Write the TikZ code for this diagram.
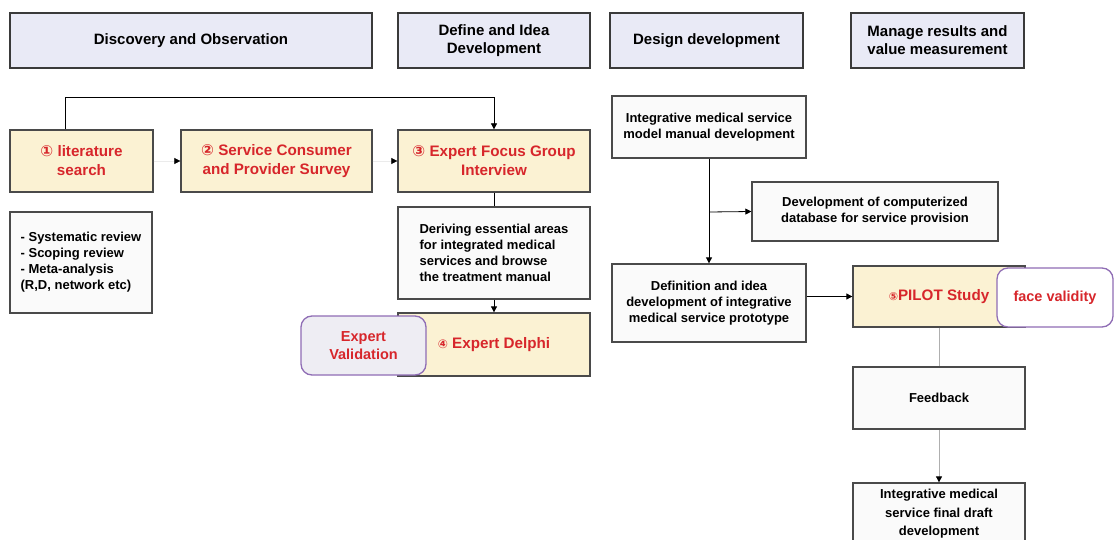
\documentclass[tikz,border=0pt]{standalone}
\usepackage{fontspec}
\setmainfont{Liberation Sans}
\newfontfamily\dejavu{DejaVu Sans}
\usetikzlibrary{arrows.meta}
\definecolor{hdrfill}{HTML}{E9EAF6}
\definecolor{hdrdraw}{HTML}{3A3A3A}
\definecolor{yelfill}{HTML}{FBF2D3}
\definecolor{redtxt}{HTML}{D7262B}
\definecolor{boxfill}{HTML}{FAFAFA}
\definecolor{boxdraw}{HTML}{4A4A4A}
\definecolor{purp}{HTML}{8F6DB5}
\definecolor{evfill}{HTML}{EEEDF3}
\definecolor{lgray}{HTML}{AFAFAF}
\newcommand{\cnum}[1]{{\dejavu\bfseries #1}}
\tikzset{
  hdr/.style={draw=hdrdraw, line width=1.6pt, fill=hdrfill, align=center, inner sep=0pt,
    font=\bfseries\fontsize{15}{18}\selectfont},
  ybox/.style={draw=boxdraw, line width=1.3pt, fill=yelfill, text=redtxt, align=center, inner sep=0pt,
    font=\bfseries\fontsize{15.2}{19}\selectfont},
  wbox/.style={draw=boxdraw, line width=1.3pt, fill=boxfill, align=center, inner sep=0pt,
    font=\bfseries\fontsize{13}{16}\selectfont},
  rbox/.style={draw=purp, line width=1.3pt, rounded corners=11pt, text=redtxt, align=center, inner sep=0pt,
    font=\bfseries\fontsize{14.5}{17.7}\selectfont},
  conn/.style={draw=black, line width=0.8pt},
  arr/.style={conn, -{Triangle[length=6pt,width=6pt]}},
  farr/.style={draw=black!8, line width=0.6pt, -{Triangle[length=6pt,width=6pt,color=black]}},
  garr/.style={draw=lgray, line width=0.9pt, -{Triangle[length=6pt,width=6pt,color=black]}},
}
\begin{document}
\begin{tikzpicture}[x=1pt,y=-1pt]
\useasboundingbox (0,0) rectangle (1115,540);
\clip (0,0) rectangle (1115,540);
\fill[white] (0,0) rectangle (1115,540);

% headers
\node[hdr, minimum width=362pt, minimum height=55pt] (h1) at (191,40.5) {Discovery and Observation};
\node[hdr, minimum width=192pt, minimum height=55pt] (h2) at (494,40.5) {Define and Idea\\Development};
\node[hdr, minimum width=193pt, minimum height=55pt] (h3) at (706.5,40.5) {Design development};
\node[hdr, minimum width=173pt, minimum height=55pt] (h4) at (937.5,40.5) {Manage results and\\value measurement};

% column 1-2
\node[ybox, minimum width=143pt, minimum height=62pt] (lit) at (81.5,161) {\cnum{①} literature\\search};
\node[ybox, minimum width=191pt, minimum height=62pt] (svc) at (276.5,161) {\cnum{②} Service Consumer\\and Provider Survey};
\node[ybox, minimum width=192pt, minimum height=62pt] (fgi) at (494,161) {\cnum{③} Expert Focus Group\\Interview};
\node[wbox, align=left, minimum width=142pt, minimum height=101pt] (bul) at (81,262.5)
  {- Systematic review\\- Scoping review\\- Meta-analysis\\(R,D, network etc)};
\node[wbox, align=left, minimum width=192pt, minimum height=92pt] (der) at (494,253)
  {Deriving essential areas\\for integrated medical\\services and browse\\the treatment manual};
\node[ybox, minimum width=192pt, minimum height=63pt] (delphi) at (494,344.5) {\cnum{\fontsize{12}{14}\selectfont④} Expert Delphi};
\node[rbox, fill=evfill, minimum width=125pt, minimum height=59pt] (ev) at (363.5,345.5) {Expert\\Validation};

% column 3-4
\node[wbox, minimum width=194pt, minimum height=62pt] (intg) at (709,127) {Integrative medical service\\model manual development};
\node[wbox, minimum width=246pt, minimum height=59pt] (db) at (875,211.5) {Development of computerized\\database for service provision};
\node[wbox, minimum width=194pt, minimum height=78pt] (def) at (709,303) {Definition and idea\\development of integrative\\medical service prototype};
\node[ybox, minimum width=172pt, minimum height=61pt] (pilot) at (939,296.5) {\cnum{\fontsize{11}{13}\selectfont⑤}PILOT Study};
\node[rbox, fill=white, minimum width=116pt, minimum height=59pt] (face) at (1055,297.5) {face validity};
\node[wbox, line width=1.6pt, minimum width=172pt, minimum height=62pt] (fb) at (939,398) {Feedback};
\node[wbox, minimum width=172pt, minimum height=62pt, font=\bfseries\fontsize{13}{18.5}\selectfont] (fin) at (939,514)
  {Integrative medical\\service final draft\\development};

% connectors
\coordinate (tl) at (65,97);
\draw[arr] (lit.north -| tl) -- (tl) -| (fgi.north);
\draw[farr] (lit.east) -- (svc.west);
\draw[farr] (svc.east) -- (fgi.west);
\draw[conn] (fgi.south) -- (der.north);
\draw[arr] (der.south) -- (delphi.north);
\draw[arr] (intg.south) -- (def.north);
\coordinate (br) at (709,212);
\draw[arr] (br) -- (db.west);
\draw[arr] (pilot.west -| def.east) -- (pilot.west);
\draw[draw=lgray, line width=0.9pt] (pilot.south) -- (fb.north);
\draw[garr] (fb.south) -- (fin.north);
\end{tikzpicture}
\end{document}
